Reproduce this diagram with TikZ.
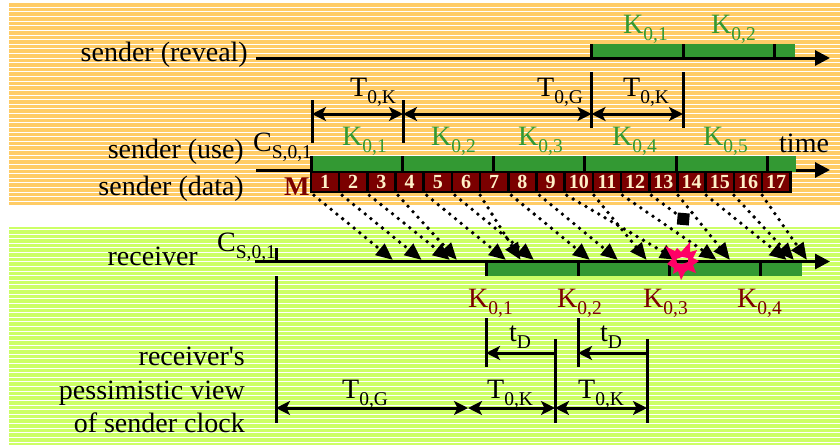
\documentclass[tikz,border=0pt]{standalone}
\usepackage{fontspec}
\setmainfont{Liberation Serif}
\usetikzlibrary{arrows.meta,positioning}
\definecolor{sendbg}{HTML}{FFCC66}
\definecolor{recvbg}{HTML}{CCFF66}
\definecolor{keybar}{HTML}{339933}
\definecolor{cellred}{HTML}{7B0000}
\definecolor{cream}{HTML}{FFF0C8}
\definecolor{burstred}{HTML}{FF0066}
\newcommand\sublab[2]{#1\raisebox{-7pt}{\fontsize{19.5}{19.5}\selectfont #2}}

\begin{document}
\begin{tikzpicture}[
  x=1pt,y=-1pt,font=\fontsize{28}{28}\selectfont,
  lab/.style={anchor=base west,inner sep=0pt},
  rlab/.style={anchor=base east,inner sep=0pt},
  keylab/.style={lab,text=keybar},
  redlab/.style={lab,text=cellred},
  stripe/.style={white,line width=1pt},
  bar/.style={fill=keybar,draw=none},
  tick/.style={line width=3pt},
  axis/.style={line width=3pt,-{Triangle[length=15pt,width=15pt]}},
  span/.style={line width=3pt,{Stealth[length=14pt,width=14pt,inset=3.5pt]}-{Stealth[length=14pt,width=14pt,inset=3.5pt]}},
  back/.style={line width=3pt,-{Stealth[length=14pt,width=14pt,inset=3.5pt]}},
  cell/.style={draw=black,fill=cellred,line width=2.6pt,minimum width=28.2pt,minimum height=20pt,inner sep=0pt,
               text=cream,font=\bfseries\fontsize{20}{20}\selectfont},
  pkt/.style={line width=3.8pt,line cap=round,dash pattern=on 0pt off 7.4pt,-{Triangle[length=17pt,width=14pt]}}
]
\useasboundingbox (0,0) rectangle (840,445);

% 1. Striped backgrounds.
\fill[sendbg] (9,3) rectangle (840,205);
\foreach \k in {0,...,42} {\draw[stripe] (9,{7.3+4.62*\k})--(840,{7.3+4.62*\k});}
\fill[recvbg] (9,227) rectangle (840,445);
\foreach \k in {0,...,46} {\draw[stripe] (9,{229.5+4.62*\k})--(840,{229.5+4.62*\k});}

% 2. Sender (reveal).
\node[rlab] (reveal) at (248,61) {sender (reveal)};
\coordinate (rs) at (256,58);
\coordinate (re) at (830,58);
\fill[bar] (591,44) rectangle (795,57);
\draw[axis] (rs)--(re);
\foreach \x in {591,683,774} {\draw[tick] (\x,44)--(\x,58);}
\node[keylab] (kr1) at (623,33) {\sublab{K}{0,1}};
\node[keylab] (kr2) at (711,33) {\sublab{K}{0,2}};

% 3. Key interval spans.
\coordinate (a1) at (312,100);  \coordinate (a2) at (312,143);
\coordinate (b1) at (403,100);  \coordinate (b2) at (403,143);
\coordinate (c1) at (591.5,72); \coordinate (c2) at (591.5,128);
\coordinate (d1) at (683,72);   \coordinate (d2) at (683,128);
\draw[tick] (a1)--(a2);
\draw[tick] (b1)--(b2);
\draw[tick] (c1)--(c2);
\draw[tick] (d1)--(d2);
\coordinate (ga) at (312,114);
\coordinate (gb) at (403,114);
\coordinate (gc) at (591.5,114);
\coordinate (gd) at (683,114);
\draw[span] (ga)--(gb);
\draw[span] (gb)--(gc);
\draw[span] (gc)--(gd);
\node[lab] (tk1) at (350,96) {\sublab{T}{0,K}};
\node[lab] (tg1) at (537,96) {\sublab{T}{0,G}};
\node[lab] (tk2) at (623,96) {\sublab{T}{0,K}};

% 4. Sender (use).
\node[rlab] (use) at (244,158) {sender (use)};
\node[lab] (cs1) at (253,151) {\sublab{C}{S,0,1}};
\coordinate (us) at (256,170);
\coordinate (ue) at (830,170);
\draw[axis] (us)--(ue);
\fill[bar] (311,156) rectangle (796,172);
\foreach \x in {311.5,402,493,584,676,767} {\draw[tick] (\x,156)--(\x,171);}
\foreach \x/\s in {342/1,431/2,518/3,612/4,703/5} {\node[keylab] (ku\s) at (\x,145) {\sublab{K}{0,\s}};}
\node[lab] (time) at (779,152) {time};

% 5. Sender (data) packets.
\node[rlab] (data) at (244,195) {sender (data)};
\node[lab,text=cellred,font=\bfseries\fontsize{27}{27}\selectfont] (msg) at (284,195) {M};
\foreach \n in {1,...,17} {\node[cell] (p\n) at ({325+28.2*(\n-1)},182) {\n};}

% 6. Receiver.
\node[rlab] (recv) at (198,265) {receiver};
\node[lab] (cs2) at (217,251) {\sublab{C}{S,0,1}};
\fill[bar] (486,262) rectangle (802,276);
\coordinate (vs) at (255,261.5);
\coordinate (ve) at (830,261.5);
\draw[axis] (vs)--(ve);
\draw[tick] (276,248)--(276,262);
\foreach \x in {486,578,669,760} {\draw[tick] (\x,261)--(\x,276);}
\foreach \x/\s in {468/1,557/2,643/3,737/4} {\node[redlab] (kv\s) at (\x,307) {\sublab{K}{0,\s}};}

% 7. Packets on their way.
\foreach \n/\d/\t in {1/-11/393,2/-11/421.7,3/-12/450,4/-11.5/457,5/-11/506,6/-11/534,7/-14/520.7,8/-11/590,
    9/-11/618,10/-12/677,11/-13/646.7,12/-12.7/716.7,14/-13.5/730,15/-13.6/786.7,16/-14/794,17/-14/807} {
  \coordinate (t\n) at (\t,260);
  \draw[pkt] ([xshift=\d pt,yshift=-2pt]p\n.south)--(t\n);
}
\node[fill=black,minimum size=12pt,inner sep=0pt,rotate=-5] (lost) at (683.3,219) {};
\draw[line width=3.8pt,line cap=round,dash pattern=on 0pt off 7.4pt] ([xshift=-12pt,yshift=-2pt]p13.south)--(lost);

% Loss burst.
\fill[burstred,even odd rule,shift={(682,261)}]
  (-17,-15)--(-7,-10)--(-5,-13)--(-1,-9)--(8,-19)--(8,-9)--(15,-11)--(11,-3)--(17,0)--(11,4)--(14,12)--(6,9)--(3,11)
  --(-1,19)--(-4,10)--(-9,13)--(-8,7)--(-15,3)--(-10,-2)--cycle
  (-6,-2)--(0,-4)--(6,-3)--(6,1)--(0,3)--(-5,2)--cycle;

% 8. Pessimistic view of the sender clock.
\node[rlab] (view1) at (245,365) {receiver\textquotesingle s};
\node[rlab] (view2) at (245,399) {pessimistic view};
\node[rlab] (view3) at (245,432) {of sender clock};
\coordinate (e1) at (276,276);   \coordinate (e2) at (276,423);
\coordinate (f1) at (486,318);   \coordinate (f2) at (486,367);
\coordinate (g1) at (578,318);   \coordinate (g2) at (578,367);
\coordinate (h1) at (555,339);   \coordinate (h2) at (555,423);
\coordinate (i1) at (647,339);   \coordinate (i2) at (647,423);
\draw[tick] (e1)--(e2);
\draw[tick] (f1)--(f2);
\draw[tick] (g1)--(g2);
\draw[tick] (h1)--(h2);
\draw[tick] (i1)--(i2);
\coordinate (ja) at (276,408);
\coordinate (jb) at (468,408);
\coordinate (jc) at (555,408);
\coordinate (jd) at (647,408);
\draw[span] (ja)--(jb);
\draw[span] (jb)--(jc);
\draw[span] (jc)--(jd);
\coordinate (la) at (555,353);
\coordinate (lb) at (486,353);
\coordinate (lc) at (647,353);
\coordinate (ld) at (578,353);
\draw[back] (la)--(lb);
\draw[back] (lc)--(ld);
\node[lab] (tg2) at (342,398) {\sublab{T}{0,G}};
\node[lab] (tk3) at (487,398) {\sublab{T}{0,K}};
\node[lab] (tk4) at (578,398) {\sublab{T}{0,K}};
\node[lab] (td1) at (509,341) {\sublab{t}{D}};
\node[lab] (td2) at (600,341) {\sublab{t}{D}};

\end{tikzpicture}
\end{document}
